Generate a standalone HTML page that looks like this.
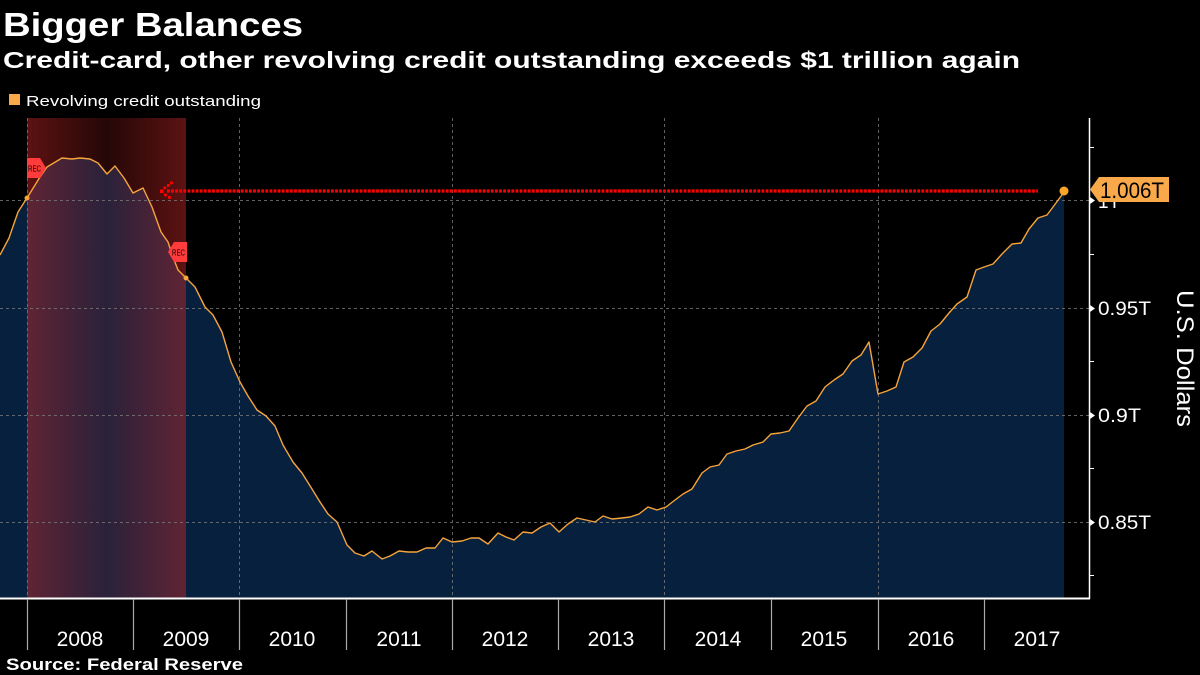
<!DOCTYPE html>
<html>
<head>
<meta charset="utf-8">
<style>
html,body{margin:0;padding:0;background:#000;}
svg{display:block;}
text{font-family:"Liberation Sans",sans-serif;}
</style>
</head>
<body>
<svg width="1200" height="675" viewBox="0 0 1200 675" xmlns="http://www.w3.org/2000/svg">
<defs>
<linearGradient id="rec" x1="0" y1="0" x2="1" y2="0">
<stop offset="0" stop-color="rgb(205,40,40)" stop-opacity="0.45"/>
<stop offset="0.5" stop-color="rgb(205,40,40)" stop-opacity="0.18"/>
<stop offset="1" stop-color="rgb(205,40,40)" stop-opacity="0.45"/>
</linearGradient>
</defs>
<rect width="1200" height="675" fill="#000"/>

<!-- titles -->
<text x="3" y="36" font-size="33" font-weight="bold" fill="#fff" textLength="300" lengthAdjust="spacingAndGlyphs">Bigger Balances</text>
<text x="3" y="68" font-size="23" font-weight="bold" fill="#fff" textLength="1017" lengthAdjust="spacingAndGlyphs">Credit-card, other revolving credit outstanding exceeds $1 trillion again</text>
<rect x="9" y="94" width="11" height="11" fill="#f9a94a"/>
<text x="26" y="106" font-size="15" fill="#fff" textLength="235" lengthAdjust="spacingAndGlyphs">Revolving credit outstanding</text>

<!-- area fill -->
<polygon fill="#06203e" points="0,598 0,255 9,238 18,212 27,198 40,177 47,167 62,158 72,159 80,158 90,159 98,163 107,174 115,166 124,178 133,193 143,188 152,207 161,232 168,242 173,257 178,270 186,278 195,287 205,307 213,315 222,332 231,362 240,382 248,396 257,410 266,416 275,426 283,445 293,462 302,473 312,489 320,502 328,514 337,522 347,545 355,553 364,556 372,551 382,559 390,556 399,551 408,552 417,552 426,548 435,548 443,538 452,542 462,541 471,538 479,538 488,544 498,533 506,537 514,540 523,532 532,533 541,527 550,523 559,532 568,524 577,518 586,520 595,522 603,516 612,519 622,518 630,517 639,514 648,507 657,510 666,507 675,500 683,494 692,489 702,473 710,467 719,465 727,454 736,451 745,449 753,445 763,442 771,434 780,433 789,431 798,418 807,406 816,401 825,387 834,380 843,374 852,361 861,355 869,342 878,394 887,391 896,387 904,362 913,357 922,348 931,331 940,324 949,313 957,304 967,297 976,270 984,267 993,264 1002,254 1012,244 1021,243 1029,229 1038,218 1047,215 1056,203 1064,192 1064,598"/>

<!-- recession shading -->
<rect x="27" y="118" width="159" height="480" fill="url(#rec)"/>

<!-- grid -->
<g stroke="#7a7a7a" stroke-width="1" stroke-dasharray="3,3" opacity="0.8">
<line x1="0" y1="200.5" x2="1089" y2="200.5"/>
<line x1="0" y1="308.5" x2="1089" y2="308.5"/>
<line x1="0" y1="415.5" x2="1089" y2="415.5"/>
<line x1="0" y1="522.5" x2="1089" y2="522.5"/>
<line x1="27.5" y1="118" x2="27.5" y2="598"/>
<line x1="239.5" y1="118" x2="239.5" y2="598"/>
<line x1="452.5" y1="118" x2="452.5" y2="598"/>
<line x1="664.5" y1="118" x2="664.5" y2="598"/>
<line x1="878.5" y1="118" x2="878.5" y2="598"/>
</g>

<!-- line -->
<polyline fill="none" stroke="#f7a43a" stroke-width="1.4" stroke-linejoin="round" points="0,255 9,238 18,212 27,198 40,177 47,167 62,158 72,159 80,158 90,159 98,163 107,174 115,166 124,178 133,193 143,188 152,207 161,232 168,242 173,257 178,270 186,278 195,287 205,307 213,315 222,332 231,362 240,382 248,396 257,410 266,416 275,426 283,445 293,462 302,473 312,489 320,502 328,514 337,522 347,545 355,553 364,556 372,551 382,559 390,556 399,551 408,552 417,552 426,548 435,548 443,538 452,542 462,541 471,538 479,538 488,544 498,533 506,537 514,540 523,532 532,533 541,527 550,523 559,532 568,524 577,518 586,520 595,522 603,516 612,519 622,518 630,517 639,514 648,507 657,510 666,507 675,500 683,494 692,489 702,473 710,467 719,465 727,454 736,451 745,449 753,445 763,442 771,434 780,433 789,431 798,418 807,406 816,401 825,387 834,380 843,374 852,361 861,355 869,342 878,394 887,391 896,387 904,362 913,357 922,348 931,331 940,324 949,313 957,304 967,297 976,270 984,267 993,264 1002,254 1012,244 1021,243 1029,229 1038,218 1047,215 1056,203 1064,192"/>

<!-- recession markers -->
<circle cx="27" cy="198" r="2.5" fill="#f7a43a"/>
<circle cx="186" cy="278" r="2.5" fill="#f7a43a"/>
<polygon points="27,158 40,158 46,168 40,178 27,178" fill="#ff3b3b"/>
<text x="28" y="171.5" font-size="8.5" fill="#000" textLength="13" lengthAdjust="spacingAndGlyphs">REC</text>
<polygon points="187,242 174,242 168,252 174,262 187,262" fill="#ff3b3b"/>
<text x="172" y="255.5" font-size="8.5" fill="#000" textLength="13" lengthAdjust="spacingAndGlyphs">REC</text>

<!-- red dotted line + arrow -->
<line x1="167" y1="191" x2="1038" y2="191" stroke="#ff0000" stroke-width="3.2" stroke-dasharray="2.8,1.3"/>
<g fill="#ff0000">
<rect x="160" y="189.5" width="3.5" height="3.5"/>
<rect x="163.5" y="186.5" width="2.8" height="2.8"/>
<rect x="167" y="184" width="2.8" height="2.8"/>
<rect x="170" y="181.5" width="2.8" height="2.8"/>
<rect x="164" y="193.5" width="2.8" height="2.8"/>
<rect x="168" y="196" width="2.8" height="2.8"/>
</g>

<!-- end dot -->
<circle cx="1064" cy="191" r="4.5" fill="#f9a42a"/>

<!-- axes -->
<line x1="0" y1="598.5" x2="1090" y2="598.5" stroke="#fff" stroke-width="2"/>
<line x1="1089.5" y1="118" x2="1089.5" y2="599" stroke="#fff" stroke-width="1.5"/>
<g stroke="#aaa" stroke-width="1.2">
<line x1="27.5" y1="599" x2="27.5" y2="650"/>
<line x1="133.5" y1="599" x2="133.5" y2="650"/>
<line x1="239.5" y1="599" x2="239.5" y2="650"/>
<line x1="346.5" y1="599" x2="346.5" y2="650"/>
<line x1="452.5" y1="599" x2="452.5" y2="650"/>
<line x1="558.5" y1="599" x2="558.5" y2="650"/>
<line x1="664.5" y1="599" x2="664.5" y2="650"/>
<line x1="771.5" y1="599" x2="771.5" y2="650"/>
<line x1="878.5" y1="599" x2="878.5" y2="650"/>
<line x1="984.5" y1="599" x2="984.5" y2="650"/>
</g>
<g font-size="21" fill="#fff" text-anchor="middle">
<text x="80" y="646">2008</text>
<text x="186" y="646">2009</text>
<text x="292" y="646">2010</text>
<text x="399" y="646">2011</text>
<text x="505" y="646">2012</text>
<text x="611" y="646">2013</text>
<text x="718" y="646">2014</text>
<text x="824" y="646">2015</text>
<text x="931" y="646">2016</text>
<text x="1037" y="646">2017</text>
</g>

<!-- right axis ticks -->
<g stroke="#fff" stroke-width="1">
<line x1="1089" y1="147.5" x2="1094" y2="147.5"/>
<line x1="1089" y1="254.5" x2="1094" y2="254.5"/>
<line x1="1089" y1="361.5" x2="1094" y2="361.5"/>
<line x1="1089" y1="468.5" x2="1094" y2="468.5"/>
<line x1="1089" y1="575.5" x2="1094" y2="575.5"/>
</g>
<g fill="#fff">
<polygon points="1090,197 1095,200.5 1090,204"/>
<polygon points="1090,305 1095,308.5 1090,312"/>
<polygon points="1090,412 1095,415.5 1090,419"/>
<polygon points="1090,519 1095,522.5 1090,526"/>
</g>
<g font-size="19" fill="#fff">
<text x="1098" y="208">1T</text>
<text x="1098" y="315" textLength="53" lengthAdjust="spacingAndGlyphs">0.95T</text>
<text x="1098" y="422" textLength="43" lengthAdjust="spacingAndGlyphs">0.9T</text>
<text x="1098" y="529" textLength="53" lengthAdjust="spacingAndGlyphs">0.85T</text>
</g>
<text transform="translate(1177,290) rotate(90)" font-size="24" fill="#fff" textLength="137" lengthAdjust="spacingAndGlyphs">U.S. Dollars</text>

<!-- value label -->
<polygon points="1090,189.5 1099,177 1169,177 1169,202 1099,202" fill="#f9a94a"/>
<text x="1100" y="198" font-size="22" fill="#000" textLength="64" lengthAdjust="spacingAndGlyphs">1.006T</text>

<!-- source -->
<text x="6" y="670" font-size="17" font-weight="bold" fill="#fff" textLength="237" lengthAdjust="spacingAndGlyphs">Source: Federal Reserve</text>
</svg>
</body>
</html>
